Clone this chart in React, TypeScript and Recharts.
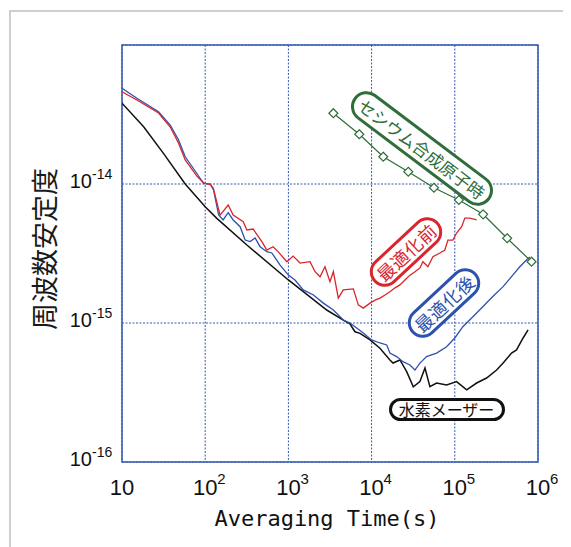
import React from "react";
import { LineChart, Line, XAxis, YAxis, CartesianGrid, ReferenceArea } from "recharts";

// averaging time (s) and Allan deviation
const beforeTau = [10, 15.1, 27.5, 38, 47.7, 57.5, 79.5, 95.5, 115, 125, 151, 189, 217, 286, 317, 377, 480, 550, 655, 752, 957, 1140, 1380, 1820, 2090, 2400, 2750, 3160, 3470, 3980, 4570, 6030, 6920, 7950, 9570, 11000, 12600, 14500, 16600, 19100, 21900, 25200, 28900, 33200, 38100, 41400, 47500, 54600, 66200, 76000, 82600, 94900, 105000, 121000, 132000, 152000, 183000];
const beforeSigma = [4.61e-14, 4.02e-14, 3.24e-14, 2.57e-14, 1.97e-14, 1.49e-14, 1.14e-14, 1.02e-14, 9.9e-15, 9.35e-15, 5.98e-15, 7.06e-15, 5.98e-15, 5.36e-15, 4.67e-15, 4.74e-15, 3.85e-15, 3.35e-15, 3.54e-15, 3.26e-15, 2.76e-15, 3.03e-15, 2.7e-15, 2.76e-15, 2.34e-15, 2.15e-15, 2.54e-15, 1.98e-15, 2.34e-15, 1.51e-15, 1.73e-15, 1.76e-15, 1.35e-15, 1.28e-15, 1.39e-15, 1.46e-15, 1.51e-15, 1.59e-15, 1.68e-15, 1.79e-15, 1.88e-15, 2.04e-15, 2.21e-15, 2.34e-15, 2.49e-15, 2.76e-15, 2.54e-15, 3.0e-15, 3.19e-15, 3.35e-15, 3.95e-15, 3.95e-15, 4.44e-15, 4.93e-15, 5.69e-15, 5.69e-15, 5.51e-15];

const afterTau = [10, 15.1, 27.5, 38, 47.7, 57.5, 79.5, 95.5, 115, 126, 145, 164, 189, 217, 263, 302, 347, 398, 457, 550, 632, 795, 1000, 1200, 1510, 2000, 2630, 3470, 4570, 5500, 6620, 7950, 10000, 12600, 15200, 16600, 20000, 23800, 28900, 33200, 38100, 45800, 60400, 79800, 100000, 125000, 165000, 217000, 286000, 378000, 498000, 604000, 727000, 797000];
const afterSigma = [4.88e-14, 4.14e-14, 3.31e-14, 2.65e-14, 2.08e-14, 1.57e-14, 1.19e-14, 1.01e-14, 1.0e-14, 9.06e-15, 5.98e-15, 5.51e-15, 6.22e-15, 5.51e-15, 4.93e-15, 3.95e-15, 3.85e-15, 4.09e-15, 3.54e-15, 3.26e-15, 3.19e-15, 2.61e-15, 2.21e-15, 2.04e-15, 1.73e-15, 1.59e-15, 1.39e-15, 1.24e-15, 1.05e-15, 1.0e-15, 9.2e-16, 8.47e-16, 7.55e-16, 7.18e-16, 6.95e-16, 6.08e-16, 5.73e-16, 5.27e-16, 4.99e-16, 4.59e-16, 5.15e-16, 5.73e-16, 6.08e-16, 6.75e-16, 7.8e-16, 9.4e-16, 1.11e-15, 1.31e-15, 1.55e-15, 1.82e-15, 2.21e-15, 2.54e-15, 2.84e-15, 2.99e-15];

const maserTau = [10, 18.2, 31.5, 57.5, 100, 138, 317, 1000, 2890, 4570, 5500, 6320, 7260, 9570, 12600, 16600, 18100, 21900, 26400, 31700, 38100, 43800, 50200, 60400, 79800, 105000, 139000, 183000, 241000, 318000, 381000, 481000, 552000, 662000, 760000];
const maserSigma = [3.81e-14, 2.58e-14, 1.66e-14, 1.0e-14, 6.87e-15, 5.66e-15, 3.64e-15, 2.04e-15, 1.24e-15, 1.05e-15, 9.84e-16, 8.65e-16, 8.43e-16, 7.55e-16, 6.58e-16, 5.42e-16, 5.15e-16, 5.42e-16, 4.47e-16, 3.48e-16, 3.79e-16, 4.74e-16, 3.48e-16, 3.7e-16, 3.58e-16, 3.79e-16, 3.3e-16, 3.7e-16, 4.02e-16, 4.59e-16, 5.15e-16, 6.08e-16, 6.4e-16, 7.8e-16, 8.91e-16];

const cesiumTau = [3470, 7110, 13800, 27600, 56100, 112000, 219000, 426000, 836000];
const cesiumSigma = [3.23e-14, 2.28e-14, 1.57e-14, 1.225e-14, 9.4e-15, 7.67e-15, 6.05e-15, 4.07e-15, 2.76e-15];

const xTicks = [10, 100, 1000, 10000, 100000, 1000000];
const yTicks = [1e-16, 1e-15, 1e-14, 1e-13];

const zip = (t: number[], s: number[]) => t.map((v, i) => ({ t: v, s: s[i] }));
const beforeData = zip(beforeTau, beforeSigma);
const afterData = zip(afterTau, afterSigma);
const maserData = zip(maserTau, maserSigma);
const cesiumData = zip(cesiumTau, cesiumSigma);

const RED = "#d8262c";
const BLUE = "#2c52ae";
const GREEN = "#2f6e3a";
const GRID = "#3558b4";
const SANS = "'Liberation Sans', Arial, sans-serif";
const CJK = "'Noto Sans CJK JP', sans-serif";

const XTick = (props: any) => {
  const { x, y, payload } = props;
  const e = Math.round(Math.log10(payload.value));
  return (
    <g>
      <text x={x} y={y + 33} textAnchor="middle" fontSize={22} fontFamily={SANS} fill="#111">10</text>
      {e > 1 && (
        <text x={x + 12} y={y + 22} fontSize={15} fontFamily={SANS} fill="#111">{e}</text>
      )}
    </g>
  );
};

const YTick = (props: any) => {
  const { x, y, payload } = props;
  const e = Math.round(Math.log10(payload.value));
  if (e > -14) return <g />;
  return (
    <g>
      <text x={x - 30} y={y + 4} textAnchor="end" fontSize={20} fontFamily={SANS} fill="#111">10</text>
      <text x={x - 30} y={y - 5} fontSize={14} fontFamily={SANS} fill="#111">{"-" + Math.abs(e)}</text>
    </g>
  );
};

const Diamond = (props: any) => {
  const { cx, cy, index } = props;
  const r = 4.5;
  return (
    <path
      key={index}
      d={`M${cx},${cy - r}L${cx + r},${cy}L${cx},${cy + r}L${cx - r},${cy}Z`}
      fill="#fff"
      stroke={GREEN}
      strokeWidth={1.2}
    />
  );
};

type PillProps = { cx: number; cy: number; w: number; h: number; angle: number; color: string; text: string; size: number; spacing: number };

const Pill = ({ cx, cy, w, h, angle, color, text, size, spacing }: PillProps) => (
  <div
    style={{
      position: "absolute",
      left: cx - w / 2,
      top: cy - h / 2,
      width: w,
      height: h,
      boxSizing: "border-box",
      border: `3px solid ${color}`,
      borderRadius: h / 2,
      background: "#fff",
      color,
      fontFamily: CJK,
      fontSize: size,
      letterSpacing: spacing,
      display: "flex",
      alignItems: "center",
      justifyContent: "center",
      whiteSpace: "nowrap",
      transform: `rotate(${angle}deg)`,
      lineHeight: 1,
    }}
  >
    {text}
  </div>
);

export default function App() {
  return (
    <div style={{ position: "relative", width: 555, height: 539, fontFamily: SANS }}>
      <div style={{ position: "absolute", left: 1, top: 2, right: -8, bottom: -8, borderTop: "2px solid #cfcfcf", borderLeft: "2px solid #cfcfcf" }} />
      <LineChart width={555} height={530} margin={{ top: 37, right: 25, left: 0, bottom: 36 }}>
        <CartesianGrid stroke={GRID} strokeDasharray="2 1.5" strokeWidth={1} />
        <XAxis
          dataKey="t"
          type="number"
          scale="log"
          domain={[10, 1000000]}
          ticks={xTicks}
          allowDataOverflow
          height={40}
          axisLine={false}
          tickLine={false}
          tickSize={0}
          tickMargin={0}
          tick={<XTick />}
          interval={0}
        />
        <YAxis
          dataKey="s"
          type="number"
          scale="log"
          domain={[1e-16, 1e-13]}
          ticks={yTicks}
          allowDataOverflow
          width={114}
          axisLine={false}
          tickLine={false}
          tickSize={0}
          tickMargin={0}
          tick={<YTick />}
          interval={0}
        />
        <ReferenceArea x1={10} x2={1000000} y1={1e-16} y2={1e-13} fill="none" stroke={GRID} strokeWidth={1.5} ifOverflow="visible" />
        <Line data={maserData} dataKey="s" stroke="#111" strokeWidth={1.5} dot={false} isAnimationActive={false} />
        <Line data={afterData} dataKey="s" stroke={BLUE} strokeWidth={1.3} dot={false} isAnimationActive={false} />
        <Line data={beforeData} dataKey="s" stroke={RED} strokeWidth={1.3} dot={false} isAnimationActive={false} />
        <Line data={cesiumData} dataKey="s" stroke={GREEN} strokeWidth={1.2} dot={<Diamond />} isAnimationActive={false} />
      </LineChart>

      <Pill cx={414} cy={140} w={170} h={31} angle={37} color={GREEN} text="セシウム合成原子時" size={17} spacing={0} />
      <Pill cx={398} cy={244} w={88} h={30} angle={-43} color={RED} text="最適化前" size={18} spacing={0.5} />
      <Pill cx={436} cy={295} w={88} h={30} angle={-43} color={BLUE} text="最適化後" size={18} spacing={0.5} />
      <Pill cx={438.5} cy={401} w={116} h={23} angle={0} color="#111" text="水素メーザー" size={16} spacing={0} />

      <div
        style={{
          position: "absolute",
          left: 36 - 100,
          top: 241 - 15,
          width: 200,
          height: 30,
          transform: "rotate(-90deg)",
          textAlign: "center",
          fontFamily: CJK,
          fontSize: 27,
          lineHeight: "30px",
          color: "#1a1a1a",
        }}
      >
        周波数安定度
      </div>
      <div
        style={{
          position: "absolute",
          left: 319 - 150,
          top: 498,
          width: 300,
          textAlign: "center",
          fontFamily: "'DejaVu Sans Mono', monospace",
          fontSize: 22,
          lineHeight: "26px",
          color: "#111",
        }}
      >
        Averaging Time(s)
      </div>
    </div>
  );
}
